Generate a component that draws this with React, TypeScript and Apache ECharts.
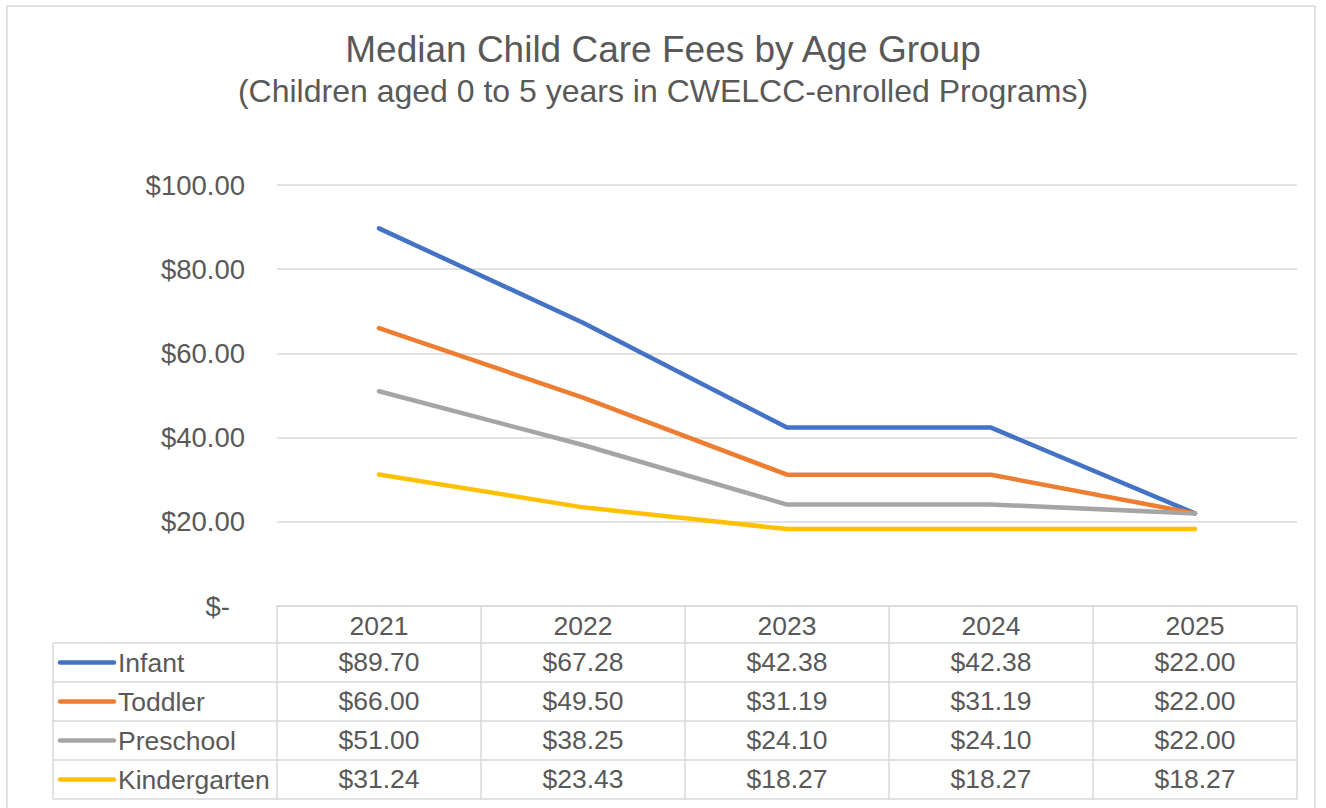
import React, { useEffect, useRef } from "react";
import * as echarts from "echarts";

const titleText = "Median Child Care Fees by Age Group";
const subtitleText = "(Children aged 0 to 5 years in CWELCC-enrolled Programs)";
const categories = ["2021", "2022", "2023", "2024", "2025"];
const seriesNames = ["Infant", "Toddler", "Preschool", "Kindergarten"];
const infant = [89.7, 67.28, 42.38, 42.38, 22.0];
const toddler = [66.0, 49.5, 31.19, 31.19, 22.0];
const preschool = [51.0, 38.25, 24.1, 24.1, 22.0];
const kindergarten = [31.24, 23.43, 18.27, 18.27, 18.27];
const seriesValues = [infant, toddler, preschool, kindergarten];
const colors = ["#4472C4", "#ED7D31", "#A5A5A5", "#FFC000"];
const yTicks = [0, 20, 40, 60, 80, 100];

const FONT = "'Liberation Sans', Arial, sans-serif";
const TEXT = "#595959";
const LINE = "#D9D9D9";

const GRID_LEFT = 277;
const GRID_RIGHT_X = 1297;
const GRID_TOP = 185;
const GRID_BOTTOM_Y = 606;
const HEADER_H = 37;
const ROW_H = 39;
const TABLE_LEFT = 53;

const fmt = (v: number) => "$" + v.toFixed(2);

export default function App() {
  const ref = useRef<HTMLDivElement>(null);
  useEffect(() => {
    if (!ref.current) return;
    const chart = echarts.init(ref.current, undefined, { renderer: "svg" });

    const rowTop = (k: number) => GRID_BOTTOM_Y + HEADER_H + ROW_H * k;

    const extraAxes = seriesValues.map((vals, k) => ({
      type: "category" as const,
      data: categories,
      position: "bottom" as const,
      gridIndex: 0,
      offset: rowTop(k) - GRID_BOTTOM_Y + ROW_H / 2 - 14,
      boundaryGap: true,
      axisLine: { show: false },
      axisTick: { show: false },
      splitLine: { show: false },
      axisLabel: {
        interval: 0,
        margin: 0,
        fontSize: 26.5,
        fontFamily: FONT,
        color: TEXT,
        formatter: (_v: string, idx: number) => fmt(vals[idx]),
      },
    }));

    const graphics: any[] = [
      {
        type: "rect",
        shape: { x: 7, y: 6, width: 1308, height: 820 },
        style: { fill: "none", stroke: LINE, lineWidth: 1.5 },
        silent: true,
      },
      {
        type: "line",
        shape: { x1: TABLE_LEFT, y1: rowTop(0), x2: TABLE_LEFT, y2: rowTop(seriesNames.length) },
        style: { stroke: LINE, lineWidth: 1.5 },
      },
    ];
    for (let k = 0; k <= seriesNames.length; k++) {
      graphics.push({
        type: "line",
        shape: { x1: TABLE_LEFT, y1: rowTop(k), x2: GRID_RIGHT_X, y2: rowTop(k) },
        style: { stroke: LINE, lineWidth: 1.5 },
      });
    }
    seriesNames.forEach((name, k) => {
      const cy = rowTop(k) + ROW_H / 2;
      graphics.push({
        type: "line",
        shape: { x1: 60, y1: cy, x2: 114, y2: cy },
        style: { stroke: colors[k], lineWidth: 4.5, lineCap: "round" },
      });
      graphics.push({
        type: "text",
        x: 118,
        y: cy,
        style: {
          text: name,
          fontSize: 26.5,
          fontFamily: FONT,
          fill: TEXT,
          textAlign: "left",
          textVerticalAlign: "middle",
        },
      });
    });

    chart.setOption({
      animation: false,
      title: [
        {
          text: titleText,
          left: "center",
          top: 26,
          textStyle: { fontSize: 37, fontWeight: "normal", fontFamily: FONT, color: TEXT },
        },
        {
          text: subtitleText,
          left: "center",
          top: 70,
          textStyle: { fontSize: 32, fontWeight: "normal", fontFamily: FONT, color: TEXT },
        },
      ],
      grid: {
        left: GRID_LEFT,
        right: 1326 - GRID_RIGHT_X,
        top: GRID_TOP,
        bottom: 808 - GRID_BOTTOM_Y,
        containLabel: false,
      },
      xAxis: [
        {
          type: "category",
          data: categories,
          boundaryGap: true,
          axisLine: { show: true, lineStyle: { color: LINE, width: 1.5 } },
          axisTick: {
            show: true,
            interval: 0,
            length: HEADER_H + ROW_H * seriesNames.length,
            lineStyle: { color: LINE, width: 1.5 },
          },
          splitLine: { show: false },
          axisLabel: {
            interval: 0,
            margin: 6,
            fontSize: 26.5,
            fontFamily: FONT,
            color: TEXT,
          },
        },
        ...extraAxes,
      ],
      yAxis: {
        type: "value",
        min: yTicks[0],
        max: yTicks[yTicks.length - 1],
        interval: yTicks[1] - yTicks[0],
        axisLine: { show: false },
        axisTick: { show: false },
        splitLine: { lineStyle: { color: LINE, width: 1.5 } },
        axisLabel: {
          margin: 32,
          fontSize: 27.5,
          fontFamily: FONT,
          color: TEXT,
          formatter: (v: number) => (v === 0 ? "{d|$-}" : fmt(v)),
          rich: {
            d: { fontSize: 27.5, fontFamily: FONT, color: TEXT, padding: [0, 15, 0, 0] },
          },
        },
      },
      series: seriesValues.map((vals, k) => ({
        type: "line",
        name: seriesNames[k],
        data: vals,
        xAxisIndex: 0,
        yAxisIndex: 0,
        symbol: "none",
        lineStyle: { color: colors[k], width: 4.5, cap: "round", join: "round" },
        itemStyle: { color: colors[k] },
      })),
      graphic: graphics,
    });

    return () => chart.dispose();
  }, []);

  return (
    <div
      ref={ref}
      style={{ position: "absolute", left: 0, top: 0, width: 1326, height: 808, background: "#fff" }}
    />
  );
}
